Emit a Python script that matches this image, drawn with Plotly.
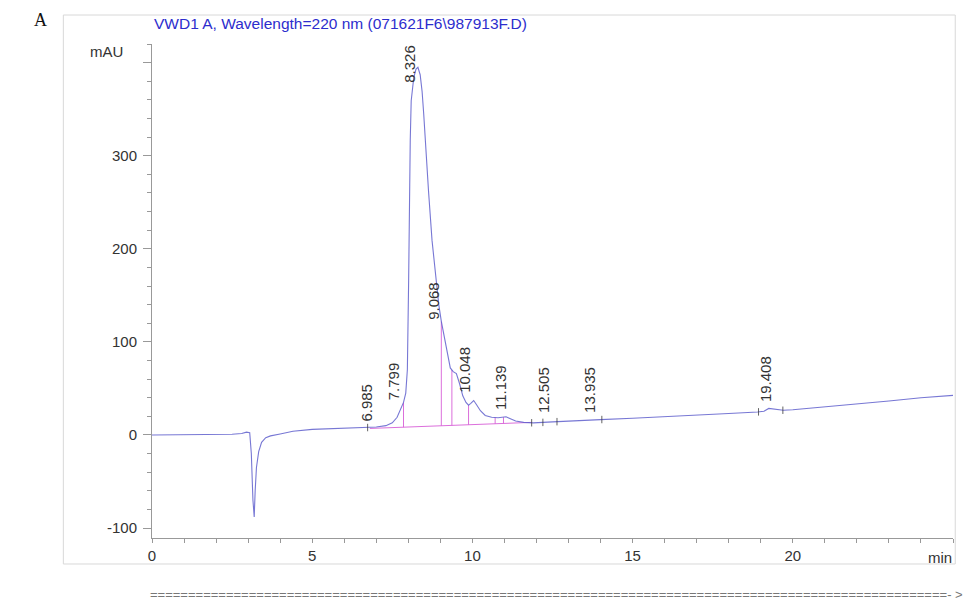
import numpy as np
import plotly.graph_objects as go

# ---- data ----
time_min = [0.0, 0.5, 1.0, 1.5, 2.0, 2.5, 2.8, 2.95, 3.05, 3.1, 3.15, 3.19, 3.22, 3.26, 3.33,
            3.42, 3.55, 3.7, 4.0, 4.4, 5.0, 5.5, 6.0, 6.5, 7.0, 7.3, 7.5, 7.65, 7.75, 7.85,
            7.92, 7.97, 8.01, 8.03, 8.06, 8.09, 8.17, 8.24, 8.30, 8.37, 8.43, 8.48, 8.53,
            8.63, 8.74, 8.85, 8.95, 9.03, 9.12, 9.22, 9.31, 9.4, 9.5, 9.6, 9.7, 9.8, 9.88,
            9.95, 10.04, 10.12, 10.25, 10.4, 10.6, 10.8, 10.95, 11.05, 11.15, 11.35, 11.6,
            11.9, 12.5, 13.0, 14.0, 15.0, 16.0, 17.0, 18.0, 18.9, 19.1, 19.25, 19.4, 19.55,
            19.7, 20.0, 21.0, 22.0, 23.0, 24.0, 25.0]
signal_mau = [0.0, 0.0, 0.2, 0.3, 0.5, 0.8, 1.5, 3.0, 2.5, -20, -70, -88, -60, -35, -18,
              -8, -3, -1, 1, 4, 6, 6.5, 7, 7.5, 8.5, 10, 13, 19, 27, 35,
              45, 70, 166, 244, 316, 359, 384, 393, 395, 387, 369, 345, 316,
              262, 209, 170, 140, 122, 105, 85, 72, 68, 66, 55, 42, 35, 32,
              34, 37, 33, 26, 21, 19, 18.5, 19, 19.5, 18, 15, 13.5,
              13, 14, 15, 16.5, 18, 19.5, 21, 23, 24.7, 25.5, 28.5, 28, 27,
              26.5, 27, 30, 33, 36.5, 40, 42.5]

peak_rt = [6.985, 7.799, 8.326, 9.068, 10.048, 11.139, 12.505, 13.935, 19.408]
peak_label_y = [12, 35, 376, 121, 43, 25, 21, 22, 33]

baseline_t = [6.8, 11.85]
baseline_v = [7.0, 13.5]
drop_times = [7.85, 9.03, 9.36, 9.88, 10.71, 10.97]
event_ticks = [6.73, 11.85, 12.2, 12.64, 14.04, 18.93, 19.69]

y_tickvals = [-100, 0, 100, 200, 300, 400]
y_ticktext = ['-100', '0', '100', '200', '300', '']
x_tickvals = [0, 5, 10, 15, 20]
x_ticktext = ['0', '5', '10', '15', '20']

title_text = "VWD1 A, Wavelength=220 nm (071621F6\\987913F.D)"

FONT = "Arial, Liberation Sans, sans-serif"
CURVE = "rgba(95,95,205,0.85)"
PINK = "rgba(215,95,215,0.9)"

t = np.array(time_min)
s = np.array(signal_mau)

fig = go.Figure()

# baseline (integration) segment
fig.add_trace(go.Scatter(x=baseline_t, y=baseline_v, mode="lines",
                         line=dict(color=PINK, width=1), hoverinfo="skip"))

# drop lines
dx, dy = [], []
for d in drop_times:
    top = float(np.interp(d, t, s))
    bot = float(np.interp(d, baseline_t, baseline_v))
    dx += [d, d, None]
    dy += [bot, top, None]
fig.add_trace(go.Scatter(x=dx, y=dy, mode="lines",
                         line=dict(color=PINK, width=1), hoverinfo="skip"))

# chromatogram
fig.add_trace(go.Scatter(x=time_min, y=signal_mau, mode="lines",
                         line=dict(color=CURVE, width=1.1), hoverinfo="skip"))

# event tick marks
ex, ey = [], []
for e in event_ticks:
    v = float(np.interp(e, t, s))
    ex += [e, e, None]
    ey += [v - 4, v + 4, None]
fig.add_trace(go.Scatter(x=ex, y=ey, mode="lines",
                         line=dict(color="rgba(60,60,60,0.8)", width=1), hoverinfo="skip"))

annotations = []
for rt, ly in zip(peak_rt, peak_label_y):
    annotations.append(dict(x=rt, y=ly, xref="x", yref="y", text=f"{rt:.3f}",
                            textangle=-90, showarrow=False, xanchor="center",
                            yanchor="bottom", xshift=-9,
                            font=dict(family=FONT, size=15, color="#333")))

annotations += [
    dict(x=0.0, y=1.042, xref="paper", yref="paper", text=title_text, showarrow=False,
         xanchor="left", yanchor="middle", font=dict(family=FONT, size=15.5, color="rgb(45,45,205)")),
    dict(x=-0.0333, y=0.9844, xref="paper", yref="paper", text="mAU", showarrow=False,
         xanchor="right", yanchor="middle", font=dict(family=FONT, size=15, color="#333")),
    dict(x=0.984, y=0, xref="paper", yref="paper", text="min", showarrow=False,
         xanchor="center", yanchor="middle", yshift=-19,
         font=dict(family=FONT, size=15, color="#333")),
    dict(x=-0.1394, y=1.0486, xref="paper", yref="paper", text="A", showarrow=False,
         xanchor="center", yanchor="middle",
         font=dict(family="Liberation Serif, Times New Roman, serif", size=18, color="#111")),
    dict(x=-0.0046, y=-0.115, xref="paper", yref="paper", text="=" * 105 + "- >",
         showarrow=False, xanchor="left", yanchor="middle",
         font=dict(family=FONT, size=13, color="#777")),
]

shapes = [dict(type="rect", xref="paper", yref="paper", x0=-0.1107, x1=1.0028,
               y0=-0.0526, y1=1.0587, line=dict(color="#d8d8d8", width=1), fillcolor="rgba(0,0,0,0)")]

fig.update_layout(
    width=969, height=601,
    margin=dict(l=152, r=16, t=44, b=63),
    plot_bgcolor="white", paper_bgcolor="white",
    showlegend=False,
    annotations=annotations,
    shapes=shapes,
    xaxis=dict(range=[0, 25], showgrid=False, zeroline=False, showline=True,
               linecolor="#999", linewidth=1, ticks="outside", ticklen=4, tickcolor="#999",
               tickvals=x_tickvals, ticktext=x_ticktext,
               tickfont=dict(family=FONT, size=15, color="#333"),
               minor=dict(dtick=1, tick0=0, ticks="outside", ticklen=4, tickcolor="#999")),
    yaxis=dict(range=[-110.7, 420], showgrid=False, zeroline=False, showline=True,
               linecolor="#999", linewidth=1, ticks="outside", ticklen=8, tickcolor="#999",
               tickvals=y_tickvals, ticktext=y_ticktext, ticklabelstandoff=3,
               tickfont=dict(family=FONT, size=15, color="#333"),
               minor=dict(dtick=20, tick0=0, ticks="outside", ticklen=4, tickcolor="#999")),
)

fig.write_html("out.html", config={"displayModeBar": False},
               post_script="document.body.style.margin='0';document.body.style.overflow='hidden';")
